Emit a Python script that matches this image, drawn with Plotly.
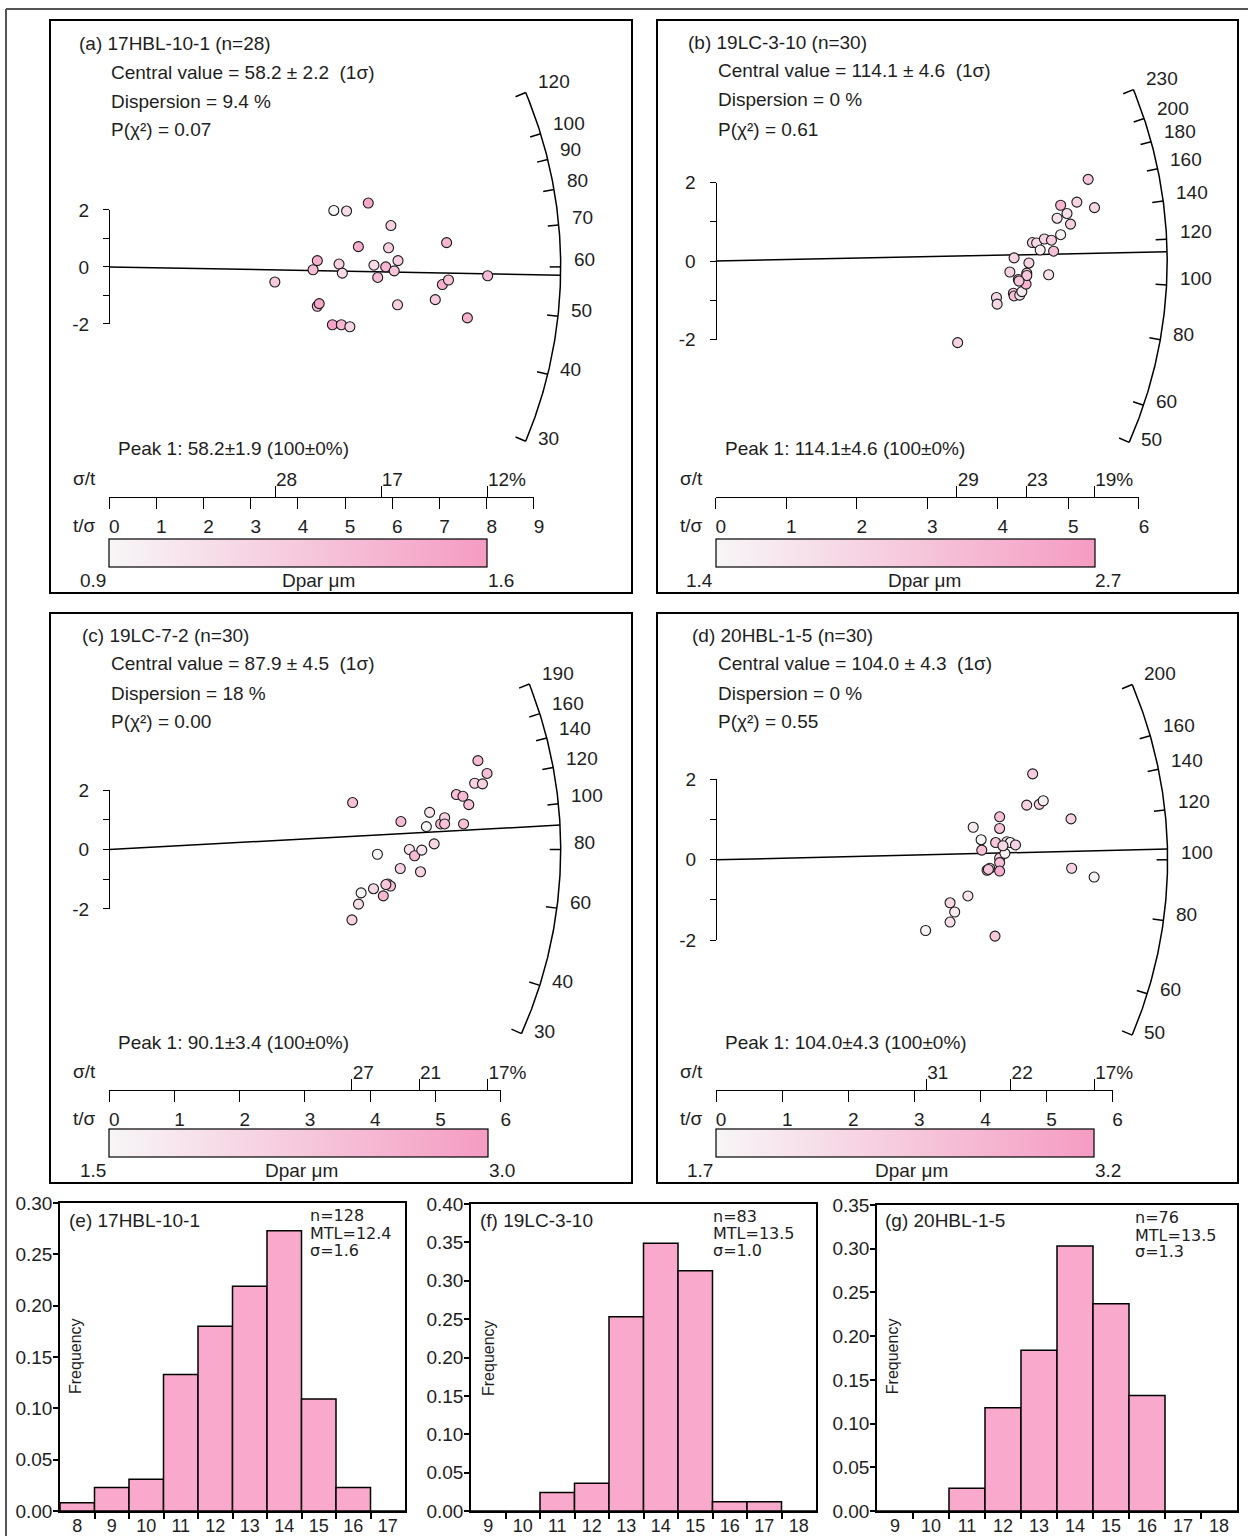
import numpy as np
import plotly.graph_objects as go

W, H = 1248, 1536
FONT = "Liberation Sans, Arial, Helvetica, sans-serif"
TXT = "#1e1e1e"
PINK_SCALE = [[0.0, "#f7f6f7"], [1.0, "#f59cc2"]]
BAR_PINK = "#f9a9cb"

# ---------------------------------------------------------------- data
# Radial plots: precision (t/sigma), standardised estimate, Dpar (um) per grain
a_prec = [3.51, 4.32, 4.41, 4.41, 4.45, 4.76, 5.03, 4.73, 4.92, 5.10, 4.87, 4.94, 5.28, 5.49,
          5.61, 5.69, 5.86, 5.92, 5.97, 6.04, 6.12, 6.11, 6.91, 7.06, 7.19, 7.15, 7.59, 8.02]
a_std = [-0.53, -0.10, 0.22, -1.38, -1.29, 1.98, 1.96, -2.03, -2.03, -2.10, 0.10, -0.22, 0.71, 2.24,
         0.06, -0.37, 0.00, 0.67, 1.45, -0.14, 0.22, -1.33, -1.15, -0.62, -0.46, 0.85, -1.79, -0.31]
a_dpar = [1.25, 1.35, 1.45, 1.35, 1.50, 0.90, 1.10, 1.55, 1.40, 1.15, 1.20, 1.10, 1.45, 1.50,
          1.10, 1.35, 1.40, 1.20, 1.20, 1.30, 1.20, 1.20, 1.25, 1.45, 1.30, 1.40, 1.45, 1.35]

b_prec = [3.43, 3.98, 3.99, 4.17, 4.23, 4.22, 4.23, 4.29, 4.31, 4.34, 4.41, 4.40, 4.41, 4.44, 4.49,
          4.55, 4.60, 4.66, 4.72, 4.76, 4.79, 4.84, 4.89, 4.89, 4.98, 5.03, 5.12, 5.28, 5.37, 4.30]
b_std = [-2.08, -0.93, -1.10, -0.28, 0.08, -0.82, -0.89, -0.47, -0.87, -0.78, -0.31, -0.59, -0.37, -0.05, 0.47,
         0.46, 0.28, 0.56, -0.35, 0.53, 0.25, 1.09, 0.67, 1.42, 1.21, 0.94, 1.50, 2.08, 1.36, -0.51]
b_dpar = [1.90, 1.85, 1.85, 1.90, 1.90, 2.20, 2.20, 2.30, 1.70, 1.60, 2.00, 2.35, 2.10, 1.90, 1.90,
          1.80, 1.55, 1.90, 1.70, 2.00, 2.20, 1.70, 1.45, 2.35, 1.75, 1.95, 1.90, 2.10, 1.85, 2.10]

c_prec = [3.72, 3.73, 3.82, 3.86, 4.05, 4.11, 4.20, 4.27, 4.31, 4.46, 4.47, 4.60, 4.68, 4.79, 4.77,
          4.86, 4.91, 4.98, 5.08, 5.14, 5.14, 5.32, 5.42, 5.43, 5.51, 5.60, 5.72, 5.65, 5.79, 4.24]
c_std = [-2.37, 1.58, -1.84, -1.46, -1.32, -0.16, -1.56, -1.16, -1.23, -0.64, 0.94, 0.00, -0.21, -0.02, -0.75,
         0.77, 1.25, 0.19, 0.86, 1.07, 0.86, 1.85, 1.79, 0.86, 1.51, 2.23, 2.21, 2.99, 2.56, -1.18]
c_dpar = [2.10, 2.40, 1.90, 1.50, 2.00, 1.50, 2.55, 2.70, 2.40, 2.10, 2.50, 1.80, 2.50, 1.80, 2.10,
          1.50, 1.80, 2.00, 2.50, 2.10, 2.40, 2.40, 2.50, 2.40, 2.40, 2.10, 2.10, 2.50, 2.40, 2.30]

d_prec = [3.17, 3.54, 3.54, 3.61, 3.81, 3.89, 4.01, 4.02, 4.10, 4.14, 4.22, 4.23, 4.29, 4.29, 4.29,
          4.29, 4.29, 4.37, 4.40, 4.45, 4.53, 4.70, 4.79, 4.89, 4.95, 5.37, 5.38, 5.72, 4.34, 4.12]
d_std = [-1.76, -1.07, -1.55, -1.30, -0.90, 0.81, 0.50, 0.24, -0.26, -0.21, -1.90, 0.43, 1.07, 0.78, 0.04,
         -0.07, -0.28, 0.16, 0.45, 0.43, 0.37, 1.36, 2.14, 1.38, 1.47, 1.02, -0.21, -0.43, 0.35, -0.24]
d_dpar = [1.75, 2.20, 2.10, 1.90, 2.00, 1.90, 1.70, 2.60, 2.50, 2.30, 2.50, 2.50, 2.60, 2.55, 2.30,
          2.60, 2.90, 1.75, 2.00, 1.80, 2.30, 2.30, 2.40, 2.35, 1.80, 2.30, 2.30, 1.75, 2.20, 2.50]

# sample statistics
sample_names = ["17HBL-10-1", "19LC-3-10", "19LC-7-2", "20HBL-1-5"]
sample_n = [28, 30, 30, 30]
central_age = [58.2, 114.1, 87.9, 104.0]
central_err = [2.2, 4.6, 4.5, 4.3]
dispersion = ["9.4", "0", "18", "0"]
p_chi2 = ["0.07", "0.61", "0.00", "0.55"]
peak_age = [58.2, 114.1, 90.1, 104.0]
peak_err = [1.9, 4.6, 3.4, 4.3]
ref_age = [60, 110, 80, 100]                 # age of the horizontal (z0)
arc_min = [30, 50, 30, 50]
arc_max = [120, 230, 190, 200]
arc_ticks = [[30, 40, 50, 60, 70, 80, 90, 100, 120],
             [50, 60, 80, 100, 120, 140, 160, 180, 200, 230],
             [30, 40, 60, 80, 100, 120, 140, 160, 190],
             [50, 60, 80, 100, 120, 140, 160, 200]]
prec_max = [9, 6, 6, 6]
rel_err_labels = [["28", "17", "12%"], ["29", "23", "19%"], ["27", "21", "17%"], ["31", "22", "17%"]]
rel_err_prec = [[3.52, 5.76, 8.01], [3.42, 4.40, 5.37], [3.72, 4.75, 5.80], [3.185, 4.46, 5.725]]
dpar_min = [0.9, 1.4, 1.5, 1.7]
dpar_max = [1.6, 2.7, 3.0, 3.2]

# Track-length histograms
e_len = [8, 9, 10, 11, 12, 13, 14, 15, 16, 17]
e_freq = [0.008, 0.023, 0.031, 0.133, 0.180, 0.219, 0.273, 0.109, 0.023, 0.0]
f_len = [9, 10, 11, 12, 13, 14, 15, 16, 17, 18]
f_freq = [0.0, 0.0, 0.024, 0.036, 0.253, 0.349, 0.313, 0.012, 0.012, 0.0]
g_len = [9, 10, 11, 12, 13, 14, 15, 16, 17, 18]
g_freq = [0.0, 0.0, 0.026, 0.118, 0.184, 0.303, 0.237, 0.132, 0.0, 0.0]
hist_names = ["17HBL-10-1", "19LC-3-10", "20HBL-1-5"]
hist_n = [128, 83, 76]
hist_mtl = [12.4, 13.5, 13.5]
hist_sd = [1.6, 1.0, 1.3]
hist_ymax = [0.30, 0.40, 0.35]

# ---------------------------------------------------------------- geometry (pixels)
R_ARC = 451.5
radial_geo = [
    dict(box=(50, 20, 632, 593), origin=(109.2, 266.9), sx=47.19, sy=28.5, axis_y=496.9,
         cb=(539.1, 567.3), cb_lab_y=580.5, title=(77, 43.8), rows=(72.5, 101.4, 130.0), peak_y=449.0,
         lab_x=70.7, lab_y=(478.5, 525.5)),
    dict(box=(657, 20, 1238, 593), origin=(715.7, 261.0), sx=70.54, sy=39.25, axis_y=496.9,
         cb=(539.1, 567.3), cb_lab_y=580.5, title=(686, 42.0), rows=(70.3, 100.0, 129.0), peak_y=448.5,
         lab_x=677.6, lab_y=(478.5, 525.5)),
    dict(box=(50, 613, 632, 1183), origin=(109.2, 849.5), sx=65.26, sy=29.71, axis_y=1089.8,
         cb=(1129.1, 1157.3), cb_lab_y=1170.5, title=(80, 635.7), rows=(663.9, 693.6, 721.2), peak_y=1042.9,
         lab_x=70.7, lab_y=(1071.5, 1118.0)),
    dict(box=(657, 613, 1238, 1183), origin=(716.1, 859.8), sx=66.09, sy=40.17, axis_y=1089.8,
         cb=(1129.1, 1157.3), cb_lab_y=1170.5, title=(690, 635.7), rows=(663.9, 693.6, 721.2), peak_y=1042.9,
         lab_x=677.6, lab_y=(1071.5, 1118.0)),
]
hist_geo = [
    dict(x=(60, 405), y=(1203, 1511), title=(66.7, 1220), stats_x=308.3, stats_y=(1215, 1233, 1250), freq=(75, 1356)),
    dict(x=(471, 816), y=(1204, 1511), title=(477.7, 1220), stats_x=711.0, stats_y=(1216, 1233, 1250), freq=(488, 1358)),
    dict(x=(877, 1237), y=(1205, 1511), title=(883.3, 1220), stats_x=1132.7, stats_y=(1217.7, 1235, 1251.7), freq=(892.7, 1356.5)),
]

radial_data = [(a_prec, a_std, a_dpar), (b_prec, b_std, b_dpar), (c_prec, c_std, c_dpar), (d_prec, d_std, d_dpar)]
hist_data = [(e_len, e_freq), (f_len, f_freq), (g_len, g_freq)]

# ---------------------------------------------------------------- helpers
def fx(px):
    return px / W


def fy(py):
    return 1 - py / H


counter = {"x": 0, "y": 0}


def new_axis(letter):
    counter[letter] += 1
    n = counter[letter]
    suffix = "" if n == 1 else str(n)
    return letter + suffix, letter + "axis" + suffix


fig = go.Figure()
layout = dict(width=W, height=H, margin=dict(l=0, r=0, t=0, b=0, pad=0, autoexpand=False), autosize=False,
              paper_bgcolor="white", plot_bgcolor="rgba(0,0,0,0)", showlegend=False,
              font=dict(family=FONT, size=19, color=TXT))
ann = []
shp = []


def text(x, y, s, size=19, anchor="left", family=FONT, **kw):
    d = dict(x=fx(x), y=fy(y), xref="paper", yref="paper", text=s, showarrow=False,
             xanchor=anchor, yanchor="middle", font=dict(size=size, family=family, color=TXT))
    d.update(kw)
    ann.append(d)


def anchor_trace(xa, ya):
    # invisible trace so that a free-standing scale axis is rendered
    fig.add_trace(go.Scatter(x=[0], y=[0], mode="markers", marker=dict(opacity=0, size=1),
                             xaxis=xa, yaxis=ya, hoverinfo="skip"))


letters = "abcd"
for i, g in enumerate(radial_geo):
    prec, std, dpar = radial_data[i]
    ox, oy = g["origin"]
    sx, sy = g["sx"], g["sy"]
    k = sy / sx
    t0 = ref_age[i]
    bx0, by0, bx1, by1 = g["box"]

    # main (hidden) data axes covering the panel
    xm, xmk = new_axis("x")
    ym, ymk = new_axis("y")
    layout[xmk] = dict(domain=[fx(bx0), fx(bx1)], range=[(bx0 - ox) / sx, (bx1 - ox) / sx],
                       visible=False, anchor=ym, fixedrange=True)
    layout[ymk] = dict(domain=[fy(by1), fy(by0)], range=[(oy - by1) / sy, (oy - by0) / sy],
                       visible=False, anchor=xm, fixedrange=True)

    def theta(age):
        return np.arctan(k * np.log(age / t0))

    # arc
    th = np.linspace(theta(arc_min[i]), theta(arc_max[i]), 240)
    fig.add_trace(go.Scatter(x=R_ARC * np.cos(th) / sx, y=R_ARC * np.sin(th) / sy, mode="lines",
                             line=dict(color="black", width=1.5), xaxis=xm, yaxis=ym, hoverinfo="skip"))
    tx, ty = [], []
    for age in arc_ticks[i]:
        t = theta(age)
        for r in (R_ARC - 11, R_ARC):
            tx.append(r * np.cos(t) / sx)
            ty.append(r * np.sin(t) / sy)
        tx.append(None)
        ty.append(None)
        rl = R_ARC + 11
        ann.append(dict(x=rl * np.cos(t) / sx, y=rl * np.sin(t) / sy, xref=xm, yref=ym, text=str(age),
                        showarrow=False, xanchor="left", yanchor="middle", yshift=7,
                        font=dict(size=19, family=FONT, color=TXT)))
    fig.add_trace(go.Scatter(x=tx, y=ty, mode="lines", line=dict(color="black", width=1.5),
                             xaxis=xm, yaxis=ym, hoverinfo="skip"))
    # central (peak) line
    s = np.log(peak_age[i] / t0)
    xe = R_ARC / np.sqrt(sx ** 2 + (s * sy) ** 2)
    fig.add_trace(go.Scatter(x=[0, xe], y=[0, s * xe], mode="lines", line=dict(color="black", width=1.5),
                             xaxis=xm, yaxis=ym, hoverinfo="skip"))
    # grains
    ca = "coloraxis" if i == 0 else "coloraxis%d" % (i + 1)
    fig.add_trace(go.Scatter(x=prec, y=std, mode="markers", xaxis=xm, yaxis=ym, cliponaxis=False,
                             marker=dict(size=10, color=dpar, coloraxis=ca,
                                         line=dict(color="#1a1a1a", width=1.1))))

    # t/sigma axis
    xmax = prec_max[i]
    dom = [fx(ox), fx(ox + xmax * sx)]
    pos = fy(g["axis_y"])
    xt, xtk = new_axis("x")
    layout[xtk] = dict(domain=dom, range=[0, xmax], anchor="free", position=pos, side="bottom",
                       showline=True, linecolor="black", linewidth=1.4, ticks="outside", ticklen=11,
                       tickwidth=1.4, tickcolor="black", tickmode="array", tickvals=list(range(xmax + 1)),
                       ticktext=[str(v) for v in range(xmax + 1)], tickfont=dict(size=19),
                       ticklabelshift=5, ticklabelstandoff=1, showgrid=False, zeroline=False, fixedrange=True)
    anchor_trace(xt, ym)
    # sigma/t axis
    xs, xsk = new_axis("x")
    layout[xsk] = dict(domain=dom, range=[0, xmax], anchor="free", position=pos, side="top",
                       showline=False, ticks="outside", ticklen=11, tickwidth=1.4, tickcolor="black",
                       tickmode="array", tickvals=rel_err_prec[i], ticktext=rel_err_labels[i],
                       tickfont=dict(size=19), ticklabelposition="outside right", ticklabelstandoff=3,
                       showgrid=False, zeroline=False, fixedrange=True)
    anchor_trace(xs, ym)
    # standardised estimate bracket
    yb, ybk = new_axis("y")
    layout[ybk] = dict(domain=[fy(oy + 2 * sy), fy(oy - 2 * sy)], range=[-2, 2], anchor="free",
                       position=fx(ox), side="left", showline=True, linecolor="black", linewidth=1.4,
                       ticks="outside", ticklen=6, tickwidth=1.4, tickcolor="black", tickmode="array",
                       tickvals=[-2, -1, 0, 1, 2], ticktext=["-2", "", "0", "", "2"],
                       tickfont=dict(size=19), ticklabelstandoff=10, showgrid=False, zeroline=False,
                       fixedrange=True)
    anchor_trace(xm, yb)

    # Dpar colour bar
    lo, hi = dpar_min[i], dpar_max[i]
    cb_len = sx * rel_err_prec[i][-1]
    cb0, cb1 = g["cb"]
    layout[ca] = dict(cmin=lo, cmax=hi, colorscale=PINK_SCALE,
                      colorbar=dict(orientation="h", lenmode="pixels", len=cb_len, thicknessmode="pixels",
                                    thickness=cb1 - cb0, x=fx(ox), xanchor="left", y=fy(cb0), yanchor="top",
                                    xpad=0, ypad=0, outlinewidth=1.2, outlinecolor="black", ticks="",
                                    showticklabels=False))
    text(ox - 16, g["cb_lab_y"], "%.1f" % lo, anchor="center")
    text(ox + xmax * sx / 2 - 3, g["cb_lab_y"], "Dpar μm", anchor="center")
    text(ox + cb_len + 14, g["cb_lab_y"], "%.1f" % hi, anchor="center")

    # texts
    text(g["title"][0], g["title"][1], "(%s) %s (n=%d)" % (letters[i], sample_names[i], sample_n[i]))
    text(ox, g["rows"][0], "Central value = %.1f ± %.1f \u00a0(1σ)" % (central_age[i], central_err[i]))
    text(ox, g["rows"][1], "Dispersion = %s %%" % dispersion[i])
    text(ox, g["rows"][2], "P(χ²) = %s" % p_chi2[i])
    text(ox + 7, g["peak_y"], "Peak 1: %.1f±%.1f (100±0%%)" % (peak_age[i], peak_err[i]))
    text(g["lab_x"], g["lab_y"][0], "σ/t")
    text(g["lab_x"], g["lab_y"][1], "t/σ")

    shp.append(dict(type="rect", xref="paper", yref="paper", x0=fx(bx0), x1=fx(bx1), y0=fy(by1), y1=fy(by0),
                    line=dict(color="black", width=2), layer="above"))

# ---------------------------------------------------------------- histograms
hl = "efg"
for j, g in enumerate(hist_geo):
    lens, freq = hist_data[j]
    xh, xhk = new_axis("x")
    yh, yhk = new_axis("y")
    x0, x1 = g["x"]
    y0, y1 = g["y"]
    lo_edge = lens[0] - 0.5
    hi_edge = lens[-1] + 0.5
    layout[xhk] = dict(domain=[fx(x0), fx(x1)], range=[lo_edge, hi_edge], anchor=yh,
                       showline=True, mirror=True, linecolor="black", linewidth=1.5,
                       ticks="outside", ticklen=5, tickcolor="rgba(0,0,0,0)", tickmode="array",
                       tickvals=lens, ticktext=[str(v) for v in lens], tickfont=dict(size=18),
                       ticklabelstandoff=-7,
                       minor=dict(tickmode="array", tickvals=[v + 0.5 for v in lens[:-1]], ticks="outside",
                                  ticklen=6, tickwidth=1.5, tickcolor="black", showgrid=False),
                       showgrid=False, zeroline=False, fixedrange=True)
    ymax = hist_ymax[j]
    yt = [round(v * 0.05, 2) for v in range(int(round(ymax / 0.05)) + 1)]
    layout[yhk] = dict(domain=[fy(y1), fy(y0)], range=[0, ymax], anchor=xh,
                       showline=True, mirror=True, linecolor="black", linewidth=1.5,
                       ticks="outside", ticklen=5, tickwidth=1.5, tickcolor="black", tickmode="array",
                       tickvals=yt, ticktext=["%.2f" % v for v in yt], tickfont=dict(size=19),
                       ticklabelstandoff=-3, showgrid=False, zeroline=False, fixedrange=True)
    fig.add_trace(go.Bar(x=lens, y=freq, width=1, xaxis=xh, yaxis=yh,
                         marker=dict(color=BAR_PINK, line=dict(color="black", width=1.5))))
    text(g["title"][0], g["title"][1], "(%s) %s" % (hl[j], hist_names[j]))
    stats = ["n=%d" % hist_n[j], "MTL=%.1f" % hist_mtl[j], "σ=%.1f" % hist_sd[j]]
    for s_, yy in zip(stats, g["stats_y"]):
        text(g["stats_x"], yy, s_, size=16, family="DejaVu Sans, sans-serif")
    ann.append(dict(x=fx(g["freq"][0]), y=fy(g["freq"][1]), xref="paper", yref="paper", text="Frequency",
                    showarrow=False, textangle=-90, xanchor="center", yanchor="middle",
                    font=dict(size=16, family=FONT, color=TXT)))

# outer frame
shp.append(dict(type="line", xref="paper", yref="paper", x0=fx(6), x1=1.01, y0=fy(9), y1=fy(9),
                line=dict(color="#555555", width=2)))
shp.append(dict(type="line", xref="paper", yref="paper", x0=fx(6), x1=fx(6), y0=fy(9), y1=-0.01,
                line=dict(color="#555555", width=2)))

layout["annotations"] = ann
layout["shapes"] = shp
fig.update_layout(**layout)

fig.write_html("out.html", config={"displayModeBar": False},
               post_script="document.body.style.margin='0';document.body.style.overflow='hidden';")
